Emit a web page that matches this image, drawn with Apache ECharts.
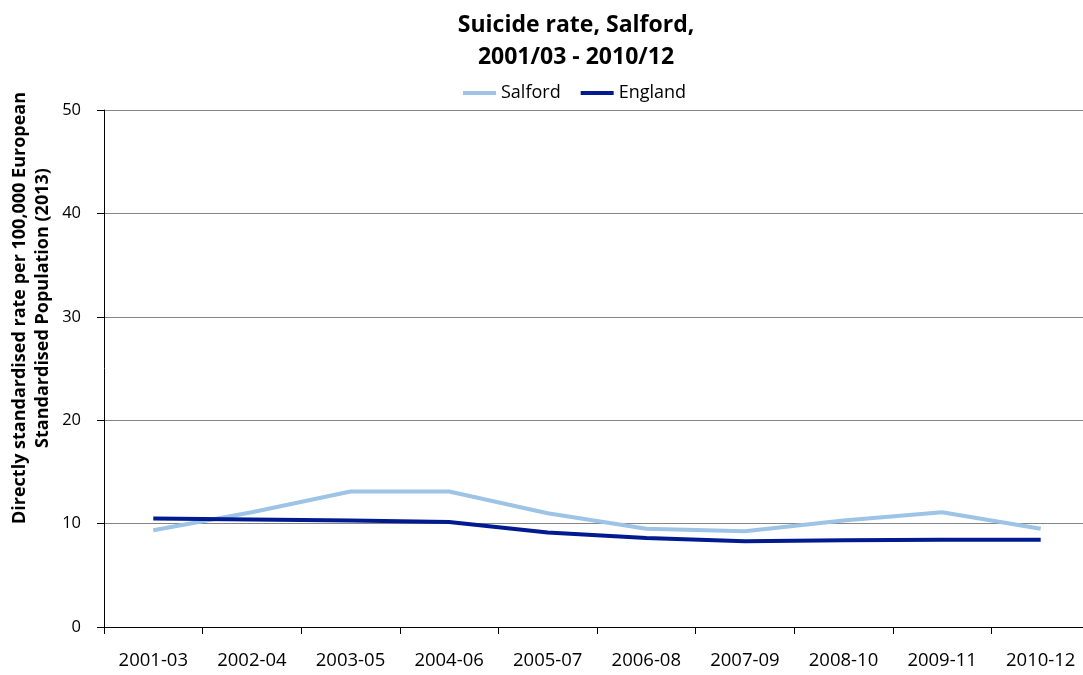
<!DOCTYPE html>
<html>
<head>
<meta charset="utf-8">
<script src="https://cdn.jsdelivr.net/npm/echarts@6/dist/echarts.min.js"></script>
<style>
html,body{margin:0;padding:0;background:#fff;overflow:hidden;}
#chart{width:1090px;height:675px;}
</style>
</head>
<body>
<div id="chart"></div>
<script>
const categories = ['2001-03','2002-04','2003-05','2004-06','2005-07','2006-08','2007-09','2008-10','2009-11','2010-12'];
const salford = [9.35, 11.1, 13.1, 13.1, 11.0, 9.5, 9.25, 10.3, 11.1, 9.5];
const england = [10.5, 10.4, 10.3, 10.15, 9.15, 8.6, 8.3, 8.4, 8.45, 8.45];
const yTicks = [0, 10, 20, 30, 40, 50];
const yTitle = ['Directly standardised rate per 100,000 European', 'Standardised Population (2013)'];

const FONT = '"Open Sans", "Noto Sans", sans-serif';
const chart = echarts.init(document.getElementById('chart'));
chart.setOption({
  animation: false,
  backgroundColor: '#ffffff',
  title: {
    text: 'Suicide rate, Salford,\n2001/03 - 2010/12',
    left: 571, top: 4, textAlign: 'center',
    textStyle: {fontFamily: FONT, fontWeight: 'bold', fontSize: 23, lineHeight: 32, color: '#000'}
  },
  legend: {
    top: 79, left: 458,
    itemWidth: 33, itemHeight: 4, itemGap: 20,
    icon: 'rect',
    textStyle: {fontFamily: FONT, fontSize: 18, color: '#000'},
    data: ['Salford', 'England']
  },
  graphic: [{
    type: 'text', x: 31, y: 308, rotation: Math.PI / 2,
    style: {
      text: yTitle.join('\n'), fontFamily: FONT, fontWeight: 'bold', fontSize: 18,
      lineHeight: 23, fill: '#000', align: 'center', verticalAlign: 'middle'
    }
  }],
  grid: {left: 104, top: 110, right: 0, height: 517, containLabel: false},
  xAxis: {
    type: 'category', data: categories, boundaryGap: true,
    axisLine: {lineStyle: {color: '#000', width: 1}},
    axisTick: {show: true, length: 7, lineStyle: {color: '#000'}},
    axisLabel: {fontFamily: FONT, fontSize: 18.5, color: '#000', margin: 24, interval: 0},
    splitLine: {show: false}
  },
  yAxis: {
    type: 'value', min: yTicks[0], max: yTicks[yTicks.length-1], interval: 10,
    axisLine: {show: true, lineStyle: {color: '#000', width: 1}},
    axisTick: {show: true, length: 7, lineStyle: {color: '#000'}},
    axisLabel: {fontFamily: FONT, fontSize: 16.5, color: '#000', margin: 23},
    splitLine: {show: true, lineStyle: {color: '#868686', width: 1}}
  },
  series: [
    {name: 'Salford', type: 'line', data: salford, symbol: 'none', color: '#9DC3E6',
     lineStyle: {width: 4, color: '#9DC3E6'}, z: 2},
    {name: 'England', type: 'line', data: england, symbol: 'none', color: '#001B8F',
     lineStyle: {width: 4, color: '#001B8F'}, z: 3}
  ]
});
</script>
</body>
</html>
